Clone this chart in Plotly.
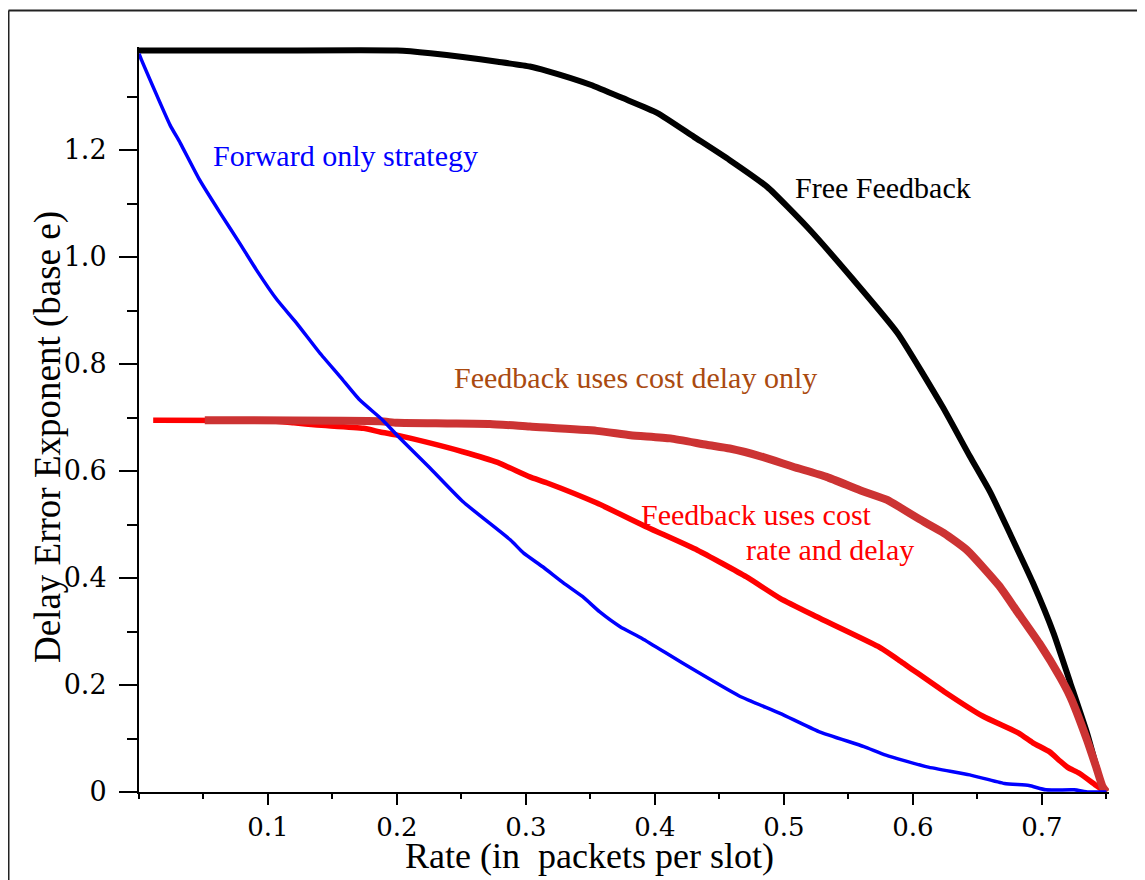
import plotly.graph_objects as go

# ---- data ----
free_x = [0.0, 0.1, 0.2, 0.226, 0.251, 0.278, 0.303, 0.316, 0.35, 0.375, 0.402, 0.43, 0.458,
          0.487, 0.518, 0.554, 0.588, 0.623, 0.644, 0.66, 0.675, 0.693, 0.709, 0.722,
          0.735, 0.747, 0.75]
free_y = [1.386, 1.386, 1.386, 1.381, 1.374, 1.365, 1.356, 1.348, 1.322, 1.297, 1.269, 1.225,
          1.181, 1.131, 1.056, 0.957, 0.858, 0.72, 0.628, 0.56, 0.484, 0.391, 0.297, 0.204,
          0.11, 0.01, 0.0]

fwd_x = [0.0, 0.002, 0.024, 0.032, 0.047, 0.063, 0.078, 0.091, 0.107, 0.122, 0.14, 0.156,
         0.171, 0.189, 0.2, 0.225, 0.251, 0.288, 0.298, 0.313, 0.329, 0.344, 0.357, 0.373,
         0.39, 0.422, 0.465, 0.497, 0.527, 0.562, 0.579, 0.611, 0.644, 0.671, 0.69, 0.703,
         0.725, 0.736, 0.75]
fwd_y = [1.38, 1.368, 1.247, 1.213, 1.144, 1.082, 1.026, 0.976, 0.92, 0.877, 0.821, 0.776,
         0.733, 0.695, 0.667, 0.607, 0.543, 0.471, 0.447, 0.421, 0.391, 0.365, 0.337, 0.309,
         0.287, 0.24, 0.18, 0.147, 0.113, 0.085, 0.069, 0.047, 0.032, 0.016, 0.012, 0.004,
         0.004, 0.0, 0.0]

rd_x = [0.011, 0.1, 0.12, 0.138, 0.174, 0.187, 0.2, 0.226, 0.251, 0.278, 0.303, 0.316, 0.355,
        0.394, 0.433, 0.471, 0.497, 0.525, 0.573, 0.59, 0.624, 0.654, 0.682, 0.693, 0.706,
        0.714, 0.72, 0.729, 0.741, 0.745, 0.75]
rd_y = [0.695, 0.694, 0.69, 0.686, 0.68, 0.673, 0.667, 0.652, 0.636, 0.616, 0.589, 0.578, 0.54,
        0.495, 0.452, 0.402, 0.362, 0.328, 0.272, 0.245, 0.188, 0.142, 0.11, 0.092, 0.075,
        0.058, 0.046, 0.035, 0.014, 0.007, 0.0]

d_x = [0.051, 0.187, 0.2, 0.239, 0.272, 0.303, 0.355, 0.381, 0.412, 0.44, 0.458, 0.484,
       0.507, 0.533, 0.559, 0.58, 0.59, 0.605, 0.624, 0.642, 0.667, 0.68, 0.698, 0.714,
       0.722, 0.735, 0.742, 0.747, 0.75]
d_y = [0.695, 0.693, 0.69, 0.689, 0.688, 0.683, 0.675, 0.667, 0.661, 0.649, 0.642, 0.626,
       0.608, 0.589, 0.564, 0.546, 0.532, 0.51, 0.484, 0.452, 0.385, 0.34, 0.278, 0.215,
       0.178, 0.097, 0.047, 0.01, 0.0]

x_ticks = [0.1, 0.2, 0.3, 0.4, 0.5, 0.6, 0.7]
x_ticklabels = ["0.1", "0.2", "0.3", "0.4", "0.5", "0.6", "0.7"]
y_ticks = [0, 0.2, 0.4, 0.6, 0.8, 1.0, 1.2]
y_ticklabels = ["0", "0.2", "0.4", "0.6", "0.8", "1.0", "1.2"]

SERIF = "Liberation Serif, Times New Roman, serif"
TICKFONT = "DejaVu Serif, serif"
SMOOTH = 0.5

fig = go.Figure()
fig.add_trace(go.Scatter(x=rd_x, y=rd_y, mode="lines",
                         line=dict(color="#FF0000", width=5.5, shape="spline", smoothing=SMOOTH),
                         name="Feedback uses cost rate and delay"))
fig.add_trace(go.Scatter(x=free_x, y=free_y, mode="lines",
                         line=dict(color="#000000", width=6, shape="spline", smoothing=SMOOTH),
                         name="Free Feedback"))
fig.add_trace(go.Scatter(x=d_x, y=d_y, mode="lines",
                         line=dict(color="#CC3333", width=8, shape="spline", smoothing=SMOOTH),
                         name="Feedback uses cost delay only"))
fig.add_trace(go.Scatter(x=fwd_x, y=fwd_y, mode="lines",
                         line=dict(color="#0000FF", width=3.5, shape="spline", smoothing=SMOOTH),
                         name="Forward only strategy"))

# page body has an 8px margin; figure is sized to fit the window without scrolling
OFF = 8
W, H = 1145 - OFF, 880 - OFF
ML, MR, MT, MB = 131, 36, 39, 88
XMAX = 0.752
YMAX = (H - MT - MB) / 535.0

fig.update_layout(
    width=W, height=H,
    margin=dict(l=ML, r=MR, t=MT, b=MB),
    paper_bgcolor="white", plot_bgcolor="white",
    showlegend=False,
    xaxis=dict(range=[0, XMAX], showgrid=False, zeroline=False,
               showline=True, linecolor="black", linewidth=2,
               ticks="outside", ticklen=11, tickwidth=2, tickcolor="black",
               tickvals=x_ticks, ticktext=x_ticklabels,
               tickfont=dict(family=TICKFONT, size=26, color="black"),
               ticklabelstandoff=0,
               minor=dict(dtick=0.05, tick0=0, ticks="outside", ticklen=5, tickwidth=2,
                          tickcolor="black", showgrid=False)),
    yaxis=dict(range=[0, YMAX], showgrid=False, zeroline=False,
               showline=True, linecolor="black", linewidth=2,
               ticks="outside", ticklen=18, tickwidth=2, tickcolor="black",
               tickvals=y_ticks, ticktext=y_ticklabels,
               tickfont=dict(family=TICKFONT, size=27, color="black"),
               ticklabelstandoff=7,
               minor=dict(dtick=0.1, tick0=0, ticks="outside", ticklen=10, tickwidth=2,
                          tickcolor="black", showgrid=False)),
)

# helpers: convert screenshot pixel positions to paper coordinates
def px_x(p):
    return (p - OFF - ML) / (W - ML - MR)

def px_y(p):
    return (H - MB - (p - OFF)) / (H - MT - MB)

# outer frame
fig.add_shape(type="line", xref="paper", yref="paper", x0=px_x(8.5), x1=px_x(1160),
              y0=px_y(10.5), y1=px_y(10.5), line=dict(color="#222222", width=2))
fig.add_shape(type="line", xref="paper", yref="paper", x0=px_x(8.5), x1=px_x(8.5),
              y0=px_y(10.5), y1=px_y(900), line=dict(color="#222222", width=2))

# axis titles
fig.add_annotation(text="Rate (in\u00a0 packets per slot)", xref="paper", yref="paper",
                   x=px_x(589), y=px_y(856), xanchor="center", yanchor="middle",
                   showarrow=False, font=dict(family=SERIF, size=36, color="black"))
fig.add_annotation(text="Delay Error Exponent (base e)", xref="paper", yref="paper",
                   x=px_x(48), y=px_y(437), xanchor="center", yanchor="middle",
                   textangle=-90, showarrow=False,
                   font=dict(family=SERIF, size=37, color="black"))

# curve labels
labels = [
    ("Forward only strategy", 0.0555, 1.189, "#0000FF"),
    ("Free Feedback", 0.507, 1.129, "#000000"),
    ("Feedback uses cost delay only", 0.2425, 0.774, "#AA4A10"),
    ("Feedback uses cost", 0.388, 0.518, "#FF0000"),
    ("rate and delay", 0.469, 0.454, "#FF0000"),
]
for txt, lx, ly, col in labels:
    fig.add_annotation(text=txt, x=lx, y=ly, xref="x", yref="y", xanchor="left",
                       yanchor="middle", showarrow=False,
                       font=dict(family=SERIF, size=30, color=col))

fig.write_html("out.html")
